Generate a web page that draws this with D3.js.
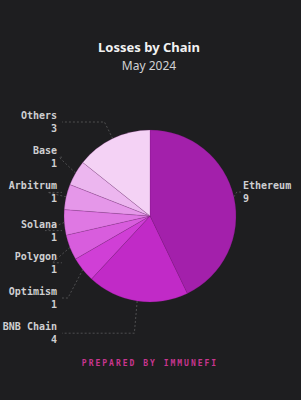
<!DOCTYPE html>
<html><head><meta charset="utf-8">
<script src="https://cdn.jsdelivr.net/npm/d3@7"></script>
<style>html,body{margin:0;padding:0;background:#1e1e20;}svg{display:block;}</style>
</head><body>
<svg id="c" width="301" height="400"></svg>
<script>
const chains = ["Ethereum","BNB Chain","Optimism","Polygon","Solana","Arbitrum","Base","Others"];
const losses = [9,4,1,1,1,1,1,3];
const colors = ["#a320ab","#c12ac7","#d03fd6","#d85ddd","#df78e3","#e597e9","#ecb6ef","#f4d2f5"];
const title = "Losses by Chain";
const subtitle = "May 2024";
const footer = "PREPARED BY IMMUNEFI";

const svg = d3.select("#c");
svg.append("rect").attr("width",301).attr("height",400).attr("fill","#1e1e20");

const cx = 150, cy = 216, r = 86;
const data = chains.map((c,i)=>({name:c,value:losses[i],color:colors[i]}));
const pie = d3.pie().value(d=>d.value).sort(null);
const arcs = pie(data);
const arc = d3.arc().innerRadius(0).outerRadius(r);

const g = svg.append("g").attr("transform",`translate(${cx},${cy})`);
g.selectAll("path").data(arcs).join("path")
  .attr("d",arc).attr("fill",d=>d.data.color)
  .attr("stroke","rgba(120,20,120,0.35)").attr("stroke-width",0.6);

// labels
const fontMono = "'DejaVu Sans Mono', 'Liberation Mono', monospace";
const leftArcs = arcs.slice(1);
const leftSorted = leftArcs.slice().sort((a,b)=> (b.startAngle+b.endAngle) - (a.startAngle+a.endAngle));
const labelX = 57, top0 = 119, step = 35.2;
const lay = svg.append("g");
function edgePt(a, rad){ const m=(a.startAngle+a.endAngle)/2; return [cx+rad*Math.sin(m), cy-rad*Math.cos(m)]; }
leftSorted.forEach((a,i)=>{
  const yb = top0 + i*step + (a.data.name==="Solana"?3:0);
  const ly = yb + 3;
  const e = edgePt(a, r);
  const b = edgePt(a, r+19);
  lay.append("path").attr("d",`M${e[0]},${e[1]}L${b[0]},${ly}L${labelX+5},${ly}`)
    .attr("fill","none").attr("stroke","#5a5a5c").attr("stroke-width",0.8).attr("stroke-dasharray","2,2");
  lay.append("text").attr("x",labelX).attr("y",yb).attr("text-anchor","end")
    .attr("font-family",fontMono).attr("font-weight","bold").attr("font-size",10).attr("fill","#cfcfd1").text(a.data.name);
  lay.append("text").attr("x",labelX).attr("y",yb+13).attr("text-anchor","end")
    .attr("font-family",fontMono).attr("font-weight","bold").attr("font-size",10).attr("fill","#cfcfd1").text(a.data.value);
});
// Ethereum on right
{
  const a = arcs[0];
  const e = edgePt(a, r);
  const yb = 189;
  lay.append("path").attr("d",`M${e[0]},${e[1]}L${e[0]+3},${yb+3}L${241},${yb+3}`)
    .attr("fill","none").attr("stroke","#5a5a5c").attr("stroke-width",0.8).attr("stroke-dasharray","2,2");
  lay.append("text").attr("x",243).attr("y",yb)
    .attr("font-family",fontMono).attr("font-weight","bold").attr("font-size",10).attr("fill","#cfcfd1").text(a.data.name);
  lay.append("text").attr("x",243).attr("y",yb+13)
    .attr("font-family",fontMono).attr("font-weight","bold").attr("font-size",10).attr("fill","#cfcfd1").text(a.data.value);
}

svg.append("text").attr("x",149).attr("y",52).attr("text-anchor","middle")
  .attr("font-family","'Noto Sans', 'Open Sans', sans-serif").attr("font-weight","bold").attr("font-size",13)
  .attr("fill","#f2f2f2").text(title);
svg.append("text").attr("x",149).attr("y",69.5).attr("text-anchor","middle")
  .attr("font-family","'Noto Sans', 'Open Sans', sans-serif").attr("font-size",12)
  .attr("fill","#d2d2d4").text(subtitle);
svg.append("text").attr("x",150).attr("y",366).attr("text-anchor","middle")
  .attr("font-family",fontMono).attr("font-weight","bold").attr("font-size",8).attr("letter-spacing",2)
  .attr("fill","#c8358f").text(footer);
</script>
</body></html>
